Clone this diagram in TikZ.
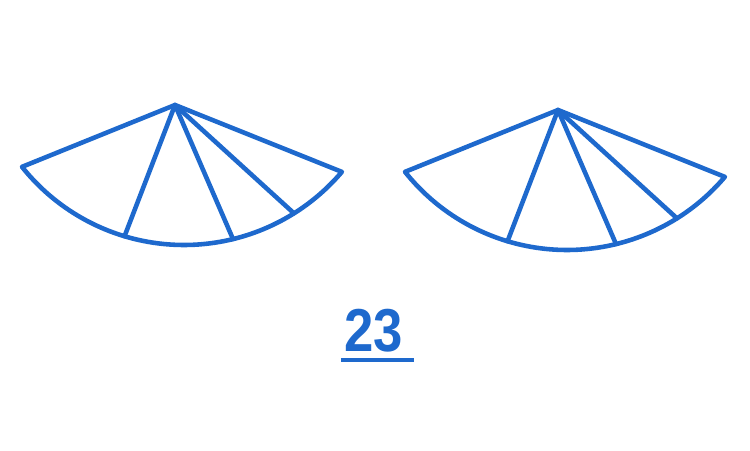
\documentclass[tikz,border=0pt]{standalone}
\usepackage{fontspec}
\setmainfont{Liberation Sans}
\usetikzlibrary{calc}
\definecolor{fanblue}{RGB}{30,105,205}
\tikzset{
  fan/.style={draw=fanblue,line width=2.6pt,line join=round,line cap=round},
  numlbl/.style={text=fanblue,font=\fontsize{30}{36}\selectfont\bfseries,inner sep=0pt,yscale=1.15}
}
\begin{document}
\begin{tikzpicture}[x=0.02cm,y=0.02cm]
\useasboundingbox (0,0) rectangle (750,450);
% two fans, the second one is the first moved to the right
\foreach \dx/\dy/\n in {0/0/l,383/-5/r}{
  \begin{scope}[shift={(\dx,\dy)}]
    \coordinate (\n-c) at (184,412);
    \coordinate (\n-top) at (175,345);
    \coordinate (\n-a) at ($(\n-c)+(218.5:207)$);
    \coordinate (\n-b) at ($(\n-c)+(319.7:207)$);
    \draw[fan] (\n-a) -- (\n-top) -- (\n-b)
      arc[start angle=319.7,end angle=218.5,radius=207] -- cycle;
    \foreach \ang [count=\i] in {253.3,283.7,302.1}{
      \coordinate (\n-\i) at ($(\n-c)+(\ang:207)$);
      \draw[fan] (\n-top) -- (\n-\i);
    }
  \end{scope}
}
\node[numlbl] (num) at (374,119) {23};
\draw[draw=fanblue,line width=2pt] ([xshift=-2pt,yshift=-4pt]num.south west) -- ([xshift=6pt,yshift=-4pt]num.south east);
\end{tikzpicture}
\end{document}
